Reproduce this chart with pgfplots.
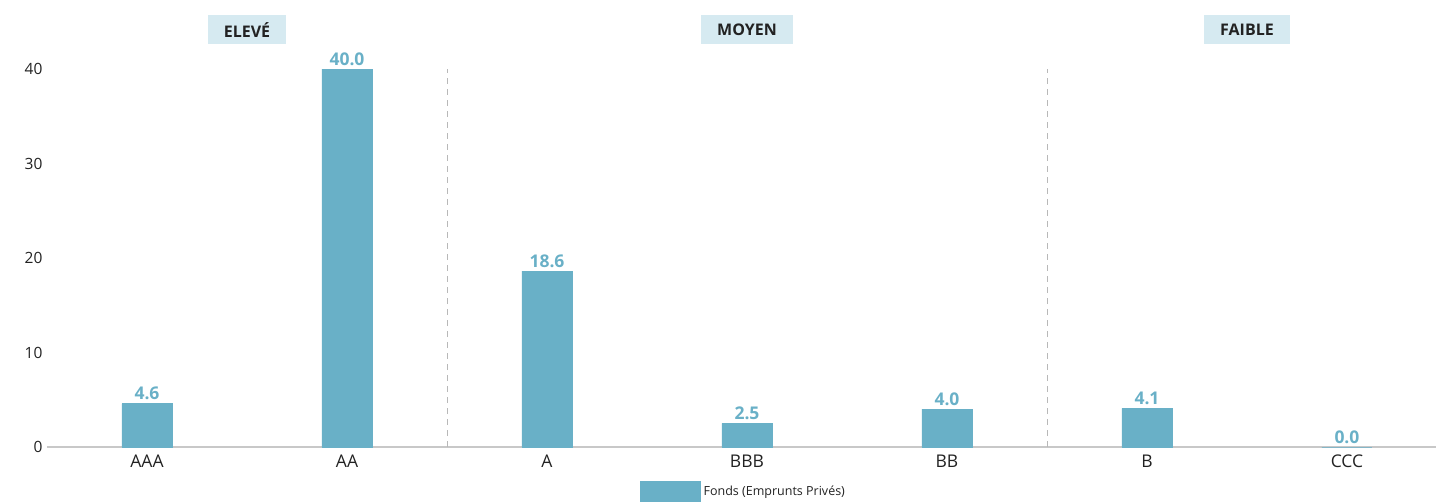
\documentclass[border=0pt]{standalone}
\usepackage{pgfplots}
\pgfplotsset{compat=1.18}
\usepackage{fontspec}
\setmainfont{Open Sans}
\definecolor{barcol}{HTML}{69B0C7}
\definecolor{boxcol}{HTML}{D6EAF1}
\definecolor{axcol}{HTML}{C8C8C8}
\definecolor{dashcol}{HTML}{B8B8B8}
\definecolor{txt}{HTML}{222222}
\begin{document}
\begin{tikzpicture}
\begin{axis}[
  scale only axis,
  width=1389pt, height=378pt,
  xmin=-0.5, xmax=6.445,
  ymin=0, ymax=40,
  clip=false,
  axis x line*=bottom,
  axis y line*=left,
  x axis line style={draw=axcol, line width=1.6pt},
  y axis line style={draw=none},
  xtick={0,1,2,3,4,5,6},
  xticklabels={AAA,AA,A,BBB,BB,B,CCC},
  ytick={0,10,20,30,40},
  major tick length=0pt,
  /pgf/number format/assume math mode=true,
  x tick label style={font=\fontsize{17.5}{19}\selectfont, text=txt, yshift=-4pt},
  y tick label style={font=\fontsize{15.5}{17}\selectfont, text=txt, xshift=-1pt},
  ybar,
  bar width=50pt,
  nodes near coords,
  nodes near coords style={font=\bfseries\fontsize{17.5}{19}\selectfont, text=barcol,
     /pgf/number format/.cd, fixed, fixed zerofill, precision=1, assume math mode=true},
  legend style={at={(0.4269,-0.1164)}, anchor=west, draw=none, fill=none,
     inner sep=0pt, font=\fontsize{12.5}{14}\selectfont, text=txt,
     nodes={inner sep=3pt}},
  legend image code/.code={\fill[barcol] (0pt,-10pt) rectangle (60pt,10pt);},
]
\addplot[fill=barcol, draw=barcol, line width=0.5pt] coordinates {
  (0,4.6) (1,40.0) (2,18.6) (3,2.5) (4,4.0) (5,4.1) (6,0.0)
};
\legend{Fonds (Emprunts Privés)}
\draw[dashcol, line width=0.9pt, dash pattern=on 6pt off 5pt] (axis cs:1.5,0) -- (axis cs:1.5,40);
\draw[dashcol, line width=0.9pt, dash pattern=on 6pt off 5pt] (axis cs:4.5,0) -- (axis cs:4.5,40);
\node[fill=boxcol, font=\bfseries\fontsize{16}{18}\selectfont, text=txt, minimum height=29pt, inner xsep=16pt] at (axis cs:0.5,44.13) {ELEVÉ};
\node[fill=boxcol, font=\bfseries\fontsize{16}{18}\selectfont, text=txt, minimum height=29pt, inner xsep=16pt] at (axis cs:3,44.13) {MOYEN};
\node[fill=boxcol, font=\bfseries\fontsize{16}{18}\selectfont, text=txt, minimum height=29pt, inner xsep=16pt] at (axis cs:5.5,44.13) {FAIBLE};
\end{axis}
\pgfresetboundingbox
\path[use as bounding box] (-47pt,-54pt) rectangle (1389pt,447pt);
\end{tikzpicture}
\end{document}
